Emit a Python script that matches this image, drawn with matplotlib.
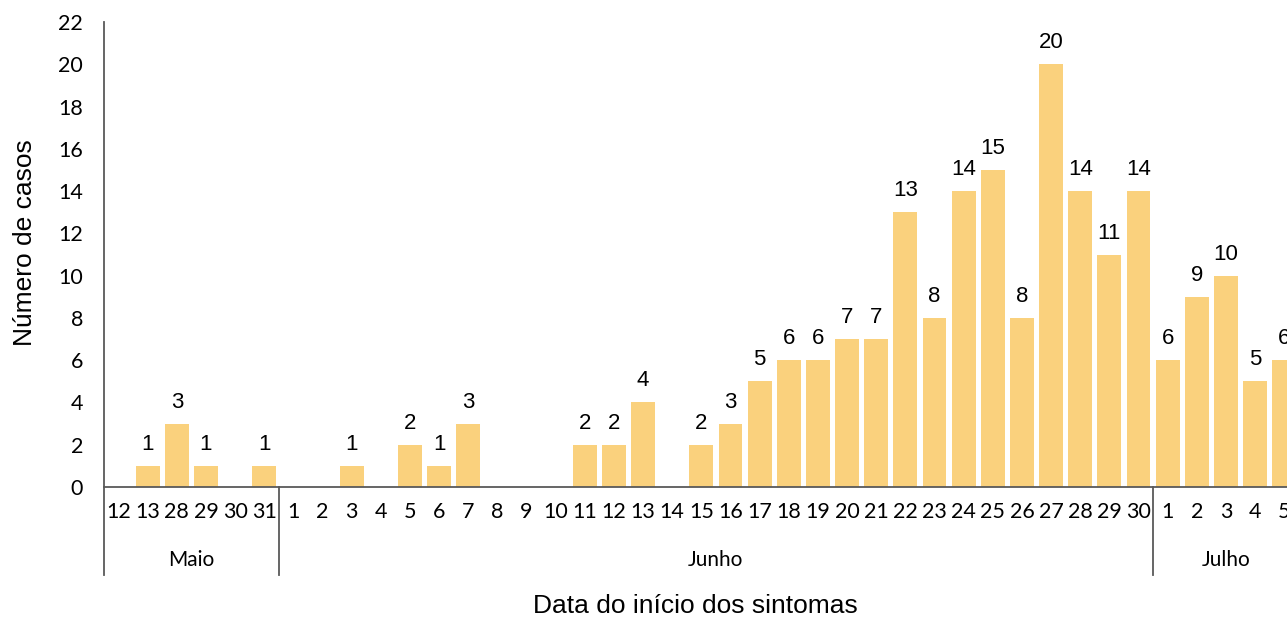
import matplotlib
matplotlib.use("Agg")
import matplotlib.pyplot as plt
import matplotlib.transforms as mtransforms
import numpy as np

# Days of symptom onset, grouped by month
months = ["Maio", "Junho", "Julho"]
days_maio = ["12", "13", "28", "29", "30", "31"]
days_junho = [str(d) for d in range(1, 31)]
days_julho = ["1", "2", "3", "4", "5"]

cases_maio = [0, 1, 3, 1, 0, 1]
cases_junho = [0, 0, 1, 0, 2, 1, 3, 0, 0, 0, 2, 2, 4, 0, 2, 3, 5, 6, 6, 7,
               7, 13, 8, 14, 15, 8, 20, 14, 11, 14]
cases_julho = [6, 9, 10, 5, 6]

y_ticks = list(range(0, 23, 2))

day_groups = [days_maio, days_junho, days_julho]
labels = days_maio + days_junho + days_julho
cases = cases_maio + cases_junho + cases_julho
x = np.arange(len(labels))

W, H = 1287, 618
fig = plt.figure(figsize=(W / 100, H / 100), dpi=100)
step_px = 29.14
ax_left, ax_top, ax_bottom = 104, 22, 487
ax = fig.add_axes([ax_left / W, (H - ax_bottom) / H,
                   len(labels) * step_px / W, (ax_bottom - ax_top) / H])

bar_color = "#FAD17D"
axis_color = "#595959"
tick_font = "Lato"
label_font = "Liberation Sans"

ax.bar(x, cases, width=0.82, color=bar_color, zorder=2)

for xi, v in zip(x, cases):
    if v > 0:
        ax.annotate(str(v), (xi, v), xytext=(0, 11.5), textcoords="offset points",
                    ha="center", va="baseline", fontsize=16,
                    family=label_font, color="#000000")

ax.set_xlim(-0.5, len(labels) - 0.5)
ax.set_ylim(0, 22)
ax.set_yticks(y_ticks)
ax.set_yticklabels([str(t) for t in y_ticks], family=tick_font, fontsize=15.5)
ax.set_xticks(x)
ax.set_xticklabels(labels, family=tick_font, fontsize=15.5)
ax.tick_params(axis="y", length=0, pad=15)
ax.tick_params(axis="x", length=0, pad=11)

for side in ["top", "right", "left"]:
    ax.spines[side].set_visible(False)
ax.spines["bottom"].set_color(axis_color)
ax.spines["bottom"].set_linewidth(1.3)

# Vertical axis line extended down through the month band, plus separators
trans = mtransforms.blended_transform_factory(ax.transData, ax.transAxes)
low = (ax_bottom - 575) / (ax_bottom - ax_top)
month_y = (ax_bottom - 560) / (ax_bottom - ax_top)
start = -0.5
bounds = [start]
for g in day_groups:
    bounds.append(bounds[-1] + len(g))
for b in bounds[:-1]:
    top = 1.0 if b == start else 0.0
    ax.plot([b, b], [low, top], transform=trans, color=axis_color,
            lw=1.3, clip_on=False, zorder=3)
for m, a, b in zip(months, bounds[:-1], bounds[1:]):
    ax.text((a + b) / 2, month_y, m, transform=trans, ha="center",
            va="center", fontsize=15, family=tick_font, clip_on=False)

fig.text(695 / W, 1 - 606 / H, "Data do início dos sintomas", ha="center",
         va="center", fontsize=19, family=label_font)
fig.text(25 / W, 1 - 243 / H, "Número de casos", ha="center", va="center",
         rotation=90, fontsize=19, family=label_font)

fig.savefig("out.png", dpi=100)
